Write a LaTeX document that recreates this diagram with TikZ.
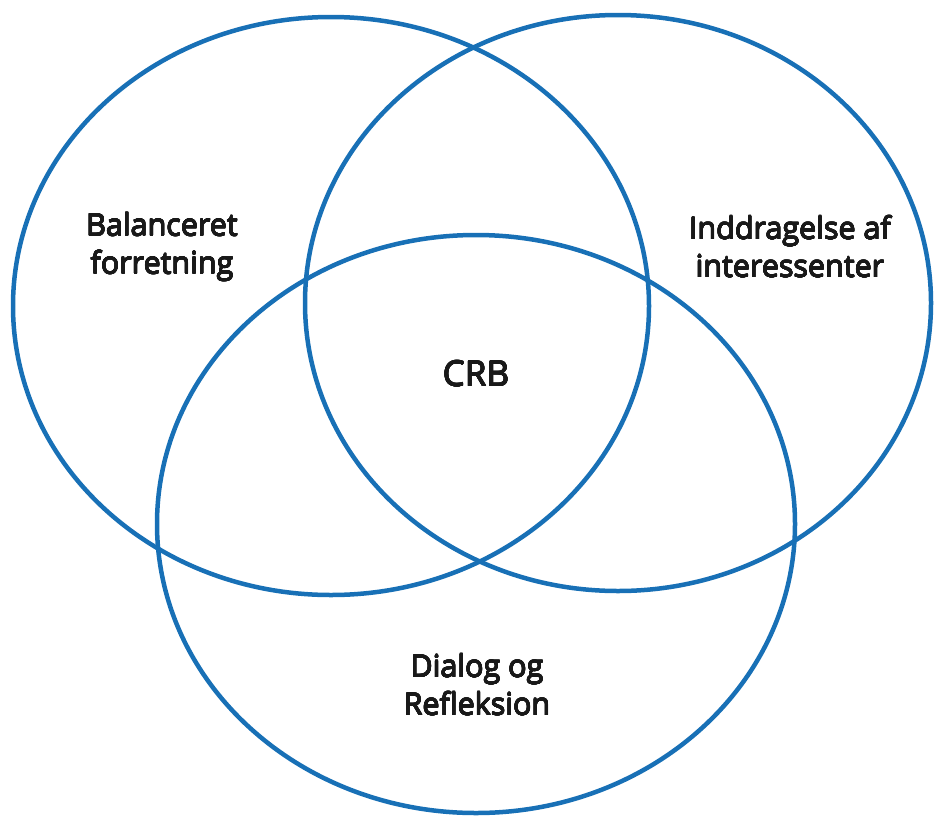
\documentclass[tikz,border=0pt]{standalone}
\usepackage{fontspec}
\setmainfont{Open Sans}
\newfontfamily\lblfont{Open Sans}
\usepackage[copies]{contour}
\contourlength{0.38pt}
\contournumber{16}
\newcommand\semib[1]{\contour{black!90}{#1}}
\definecolor{vblue}{RGB}{24,112,182}
\begin{document}
\begin{tikzpicture}[x=1pt,y=-1pt,
  ring/.style={draw=vblue,line width=4.5pt},
  lbl/.style={align=center,font=\lblfont\fontsize{30.5}{38}\selectfont,text=black!90}]
\useasboundingbox (0,0) rectangle (934,817);
\draw[ring] (331,306) ellipse [x radius=318, y radius=289];
\draw[ring] (618,303) ellipse [x radius=313, y radius=288];
\draw[ring] (476,524) ellipse [x radius=319, y radius=289];
\node[lbl] (a) at (162,247) {\semib{Balanceret}\\\semib{forretning}};
\node[lbl] (b) at (790,247) {\semib{Inddragelse af}\\\semib{interessenter}};
\node[lbl,font=\lblfont\fontsize{35}{40}\selectfont] (c) at (476,374) {\semib{CRB}};
\node[lbl] (d) at (477,685) {\semib{Dialog og}\\\semib{Refleksion}};
\end{tikzpicture}
\end{document}
